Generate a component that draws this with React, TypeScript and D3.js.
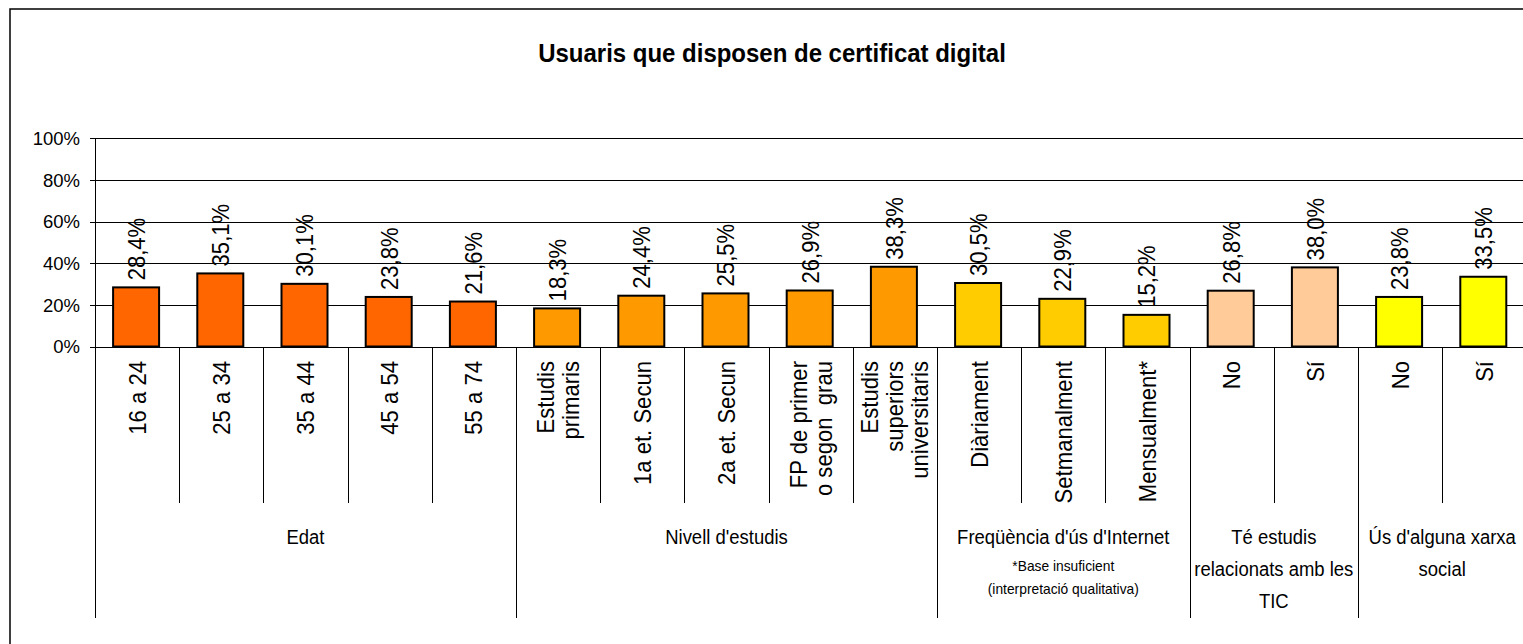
import React from "react";
import * as d3 from "d3";

const categories: string[][] = [
  ["16 a 24"], ["25 a 34"], ["35 a 44"], ["45 a 54"], ["55 a 74"],
  ["Estudis", "primaris"], ["1a et. Secun"], ["2a et. Secun"], ["FP de primer", "o segon  grau"], ["Estudis", "superiors", "universitaris"],
  ["Diàriament"], ["Setmanalment"], ["Mensualment*"],
  ["No"], ["Sí"],
  ["No"], ["Sí"],
];
const values: number[] = [28.4, 35.1, 30.1, 23.8, 21.6, 18.3, 24.4, 25.5, 26.9, 38.3, 30.5, 22.9, 15.2, 26.8, 38.0, 23.8, 33.5];
const groupNames: string[][] = [
  ["Edat"],
  ["Nivell d'estudis"],
  ["Freqüència d'ús d'Internet"],
  ["Té estudis", "relacionats amb les", "TIC"],
  ["Ús d'alguna xarxa", "social"],
];
const groupSizes: number[] = [5, 5, 3, 2, 2];
const groupColors: string[] = ["#FF6600", "#FF9900", "#FFCC00", "#FFCC99", "#FFFF00"];
const groupNotes: string[][] = [[], [], ["*Base insuficient", "(interpretació qualitativa)"], [], []];
const yTicks: number[] = [0, 20, 40, 60, 80, 100];
const yTickLabels: string[] = ["0%", "20%", "40%", "60%", "80%", "100%"];
const title = "Usuaris que disposen de certificat digital";

const FONT = "'Liberation Sans', Arial, Helvetica, sans-serif";

export default function App() {
  const x0 = 95;
  const bw = 84.2;
  const n = values.length;
  const x = d3.scaleBand<number>().domain(d3.range(n)).range([x0, x0 + n * bw]).paddingInner(0).paddingOuter(0);
  const y = d3.scaleLinear().domain([0, 100]).range([346.5, 138.3]);
  const barW = 46;

  const groupOf: number[] = [];
  groupSizes.forEach((s, g) => { for (let i = 0; i < s; i++) groupOf.push(g); });
  const groupStarts: number[] = [];
  let acc = 0;
  groupSizes.forEach((s) => { groupStarts.push(acc); acc += s; });

  const axisY = Math.round(y(0)) + 0.5;
  const rightEdge = 1600;
  const rotFont = 23.5;
  const rotScale = 0.94;
  const baseOff = 8.4;

  return (
    <svg width={1523} height={644} style={{ position: "absolute", left: 0, top: 0, display: "block" }} fontFamily={FONT}>
      <rect x={10} y={9} width={1560} height={700} fill="#fff" stroke="#000" strokeWidth={1.5} />
      <text transform={`translate(772,61.5) scale(0.905,1)`} textAnchor="middle" fontSize={26.5} fontWeight="bold" fill="#000">{title}</text>

      {yTicks.filter((t) => t > 0).map((t, i) => (
        <line key={"g" + i} x1={x0} x2={rightEdge} y1={Math.round(y(t)) + 0.5} y2={Math.round(y(t)) + 0.5} stroke="#000" strokeWidth={1} />
      ))}
      <line x1={x0 + 0.5} x2={x0 + 0.5} y1={y(100)} y2={axisY} stroke="#000" strokeWidth={1} />
      {yTicks.map((t, i) => (
        <g key={"yt" + i}>
          <line x1={x0 - 5} x2={x0} y1={Math.round(y(t)) + 0.5} y2={Math.round(y(t)) + 0.5} stroke="#000" />
          <text x={80} y={y(t) + 6.7} textAnchor="end" fontSize={18.5} fill="#000">{yTickLabels[i]}</text>
        </g>
      ))}

      {values.map((v, i) => {
        const bx = (x(i) as number) + (bw - barW) / 2 - 1;
        return (
          <rect key={"b" + i} x={bx} y={y(v)} width={barW} height={y(0) - y(v)} fill={groupColors[groupOf[i]]} stroke="#000" strokeWidth={2} />
        );
      })}
      {values.map((v, i) => {
        const cx = (x(i) as number) + bw / 2 - 0.5;
        const ty = y(v) - 7;
        return (
          <text key={"v" + i} transform={`translate(${cx + baseOff},${ty}) rotate(-90) scale(${rotScale},1)`} fontSize={rotFont} fill="#000">
            {v.toFixed(1).replace(".", ",") + "%"}
          </text>
        );
      })}

      <line x1={x0} x2={rightEdge} y1={axisY} y2={axisY} stroke="#000" strokeWidth={1} />

      {d3.range(n + 1).map((i) => {
        const isGroup = i === 0 || groupStarts.includes(i) || i === n;
        const xx = Math.round(x0 + i * bw) + 0.5;
        return <line key={"d" + i} x1={xx} x2={xx} y1={axisY} y2={isGroup ? 618 : 503} stroke="#000" strokeWidth={1} />;
      })}

      {categories.map((lines, i) => {
        const cx = (x(i) as number) + bw / 2;
        const L = 25;
        return lines.map((ln, j) => {
          const bx = cx + baseOff + (j - (lines.length - 1) / 2) * L;
          return (
            <text key={"c" + i + "_" + j} transform={`translate(${bx},361) rotate(-90) scale(${rotScale},1)`} textAnchor="end" fontSize={rotFont} fill="#000" style={{ whiteSpace: "pre" }}>
              {ln}
            </text>
          );
        });
      })}

      {groupNames.map((lines, g) => {
        const start = x0 + groupStarts[g] * bw;
        const end = start + groupSizes[g] * bw;
        const cx = (start + end) / 2;
        return (
          <g key={"gl" + g}>
            {lines.map((ln, j) => (
              <text key={j} transform={`translate(${cx},${544 + j * 32}) scale(0.88,1)`} textAnchor="middle" fontSize={21} fill="#000">{ln}</text>
            ))}
            {groupNotes[g].map((ln, j) => (
              <text key={"n" + j} transform={`translate(${cx},${571 + j * 22.5}) scale(0.92,1)`} textAnchor="middle" fontSize={15} fill="#000">{ln}</text>
            ))}
          </g>
        );
      })}
    </svg>
  );
}
